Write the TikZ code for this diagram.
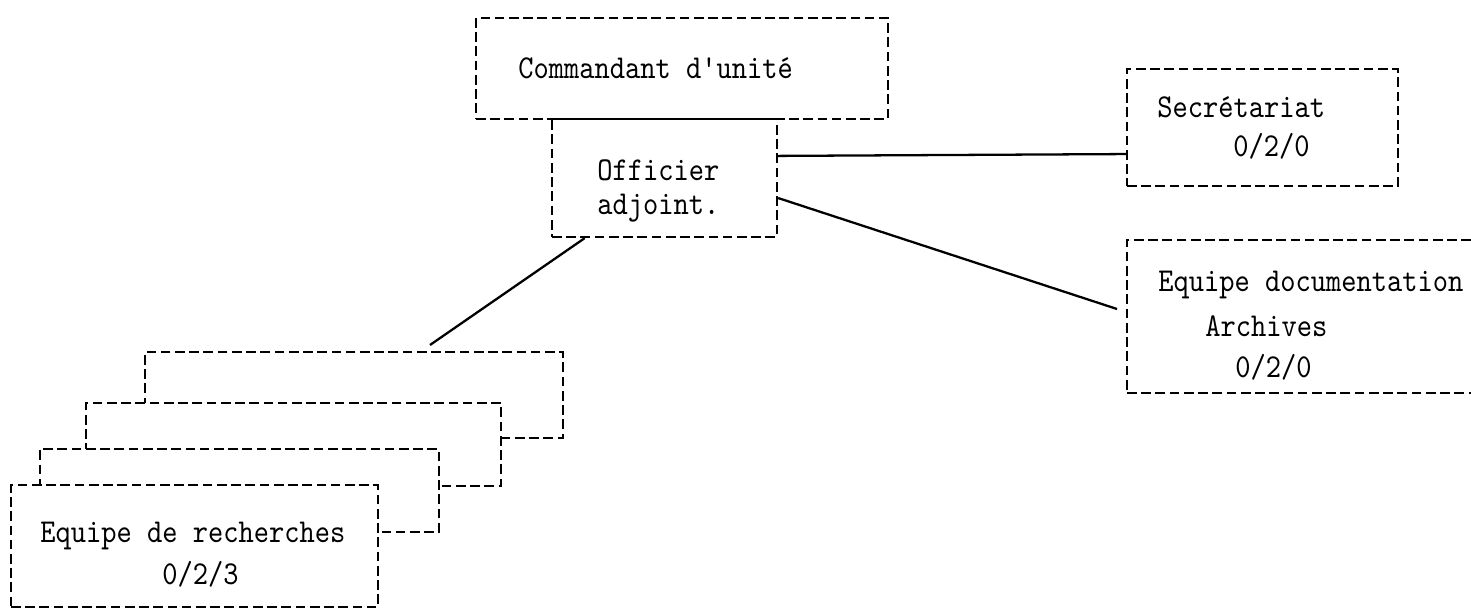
\documentclass[tikz,border=0pt]{standalone}
\usepackage{fontspec}
\newfontfamily\typewriter{lmmono10-regular.otf}[FakeStretch=0.87]
\usetikzlibrary{fit}

\tikzset{
  box/.style={draw, line width=1.3pt, dash pattern=on 5.5pt off 2.6pt, inner sep=0pt},
  stack/.style={box, fill=white},
  lbl/.style={anchor=base west, inner sep=0pt, font=\typewriter\fontsize{19}{22}\selectfont},
  link/.style={line width=1.3pt}
}

\begin{document}
\begin{tikzpicture}[x=0.02cm, y=-0.02cm]
  \clip (0,0) rectangle (1471,614);

  % command
  \node[box, fit={(476,18) (888,119)}] (cmd) {};
  \node[box, fit={(552,119) (777,237)}] (off) {};
  \node[lbl] (cmdtxt) at (518,79) {Commandant d'unité};
  \node[lbl] (offtxt) at (597,181) {Officier};
  \node[lbl] (offtxtb) at (597,215) {adjoint.};

  % right side
  \node[box, fit={(1127,69) (1398,186)}] (sec) {};
  \node[lbl] (sectxt) at (1157,118) {Secrétariat};
  \node[lbl] (secnum) at (1233,157) {0/2/0};

  \node[box, fit={(1127,240) (1500,393)}] (doc) {};
  \node[lbl] (doctxt) at (1158,292) {Equipe documentation};
  \node[lbl] (doctxtb) at (1205,337) {Archives};
  \node[lbl] (docnum) at (1235,378) {0/2/0};

  % research teams, back to front
  \node[stack, fit={(145,352) (563,438)}] (rechd) {};
  \node[stack, fit={(86,403) (501,486)}] (rechc) {};
  \node[stack, fit={(40,449) (439,532)}] (rechb) {};
  \node[stack, fit={(11,485) (378,607)}] (rech) {};
  \node[lbl] (rechtxt) at (40,543) {Equipe de recherches};
  \node[lbl] (rechnum) at (162,585) {0/2/3};

  \coordinate (docend) at (1117,309);
  \coordinate (rechend) at (430,345);

  \draw[link] (off.11.6) -- (sec.191.5);
  \draw[link] (off.-10.6) -- (docend);
  \draw[link] (off.217.3) -- (rechend);
\end{tikzpicture}
\end{document}
